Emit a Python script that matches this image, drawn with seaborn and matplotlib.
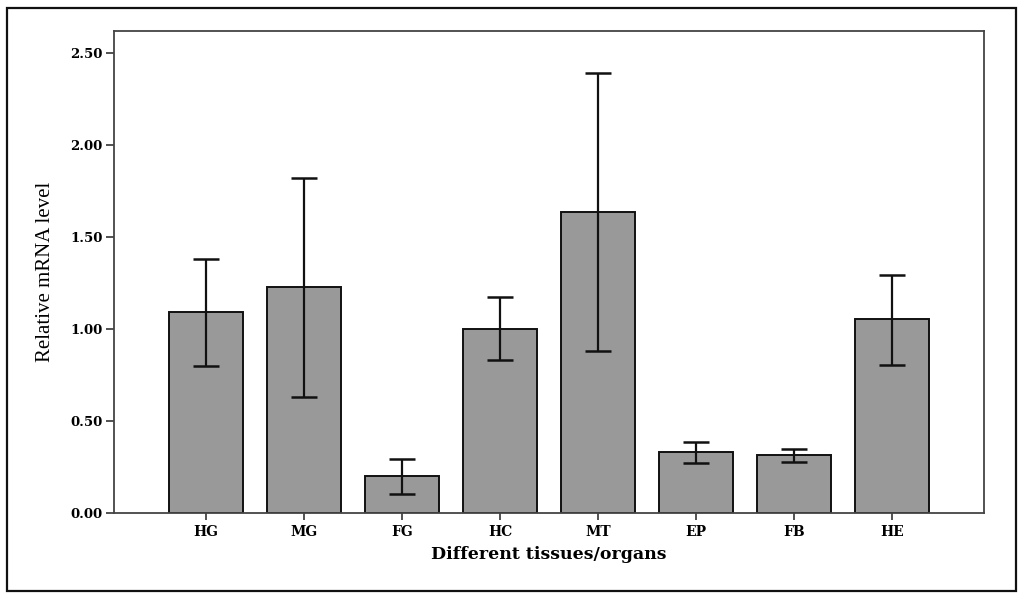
import matplotlib
matplotlib.use("Agg")
import matplotlib.pyplot as plt
import matplotlib.patches as mpatches
import seaborn as sns
import pandas as pd
import numpy as np

categories = ["HG", "MG", "FG", "HC", "MT", "EP", "FB", "HE"]
means = [1.09, 1.23, 0.20, 1.00, 1.636, 0.33, 0.314, 1.052]
err_upper = [1.381, 1.82, 0.296, 1.172, 2.39, 0.387, 0.349, 1.296]
err_lower = [0.80, 0.632, 0.104, 0.832, 0.88, 0.273, 0.278, 0.805]
yticks = [0.0, 0.5, 1.0, 1.5, 2.0, 2.5]

sns.set_theme(style="white")
plt.rcParams["font.family"] = ["DejaVu Serif", "Liberation Serif"]
plt.rcParams["text.color"] = "black"
plt.rcParams["axes.labelcolor"] = "black"
plt.rcParams["xtick.color"] = "black"
plt.rcParams["ytick.color"] = "black"

df = pd.DataFrame({"tissue": categories, "level": means})

fig = plt.figure(figsize=(10.24, 5.99), dpi=100)
ax = fig.add_axes([0.1113, 0.1436, 0.961 - 0.1113, 0.9482 - 0.1436])

sns.barplot(data=df, x="tissue", y="level", order=categories, color="#999999",
            saturation=1, width=0.76, edgecolor="#111111", linewidth=1.4,
            errorbar=None, ax=ax)

pos = np.arange(len(categories))
m = np.array(means)
yerr = np.vstack([m - np.array(err_lower), np.array(err_upper) - m])
ax.errorbar(pos, m, yerr=yerr, fmt="none", ecolor="#111111", elinewidth=1.6,
            capsize=9.5, capthick=1.8)

ax.set_xlim(-0.94, 7.94)
ax.set_ylim(0, 2.62)
ax.set_yticks(yticks)
ax.set_yticklabels([f"{v:.2f}" for v in yticks], fontsize=9.5, fontweight="bold",
                   family="DejaVu Serif")
ax.set_xticks(pos)
ax.set_xticklabels(categories, fontsize=10, fontweight="bold", family="DejaVu Serif")
ax.tick_params(axis="y", direction="out", length=6, width=1.2, color="#333333", pad=2, left=True)
ax.tick_params(axis="x", direction="out", length=5, width=1.2, color="#333333", pad=4, bottom=True)

for s in ax.spines.values():
    s.set_visible(True)
    s.set_color("#444444")
    s.set_linewidth(1.3)

ax.set_xlabel("Different tissues/organs", fontsize=12.5, fontweight="bold",
              family="DejaVu Serif", labelpad=5)
ax.set_ylabel("Relative mRNA level", fontsize=15, family="Liberation Serif")
ax.yaxis.set_label_coords(-0.068, 0.5)

border = mpatches.Rectangle((7 / 1024, 8 / 599), (1016 - 7) / 1024, (591 - 8) / 599,
                            transform=fig.transFigure, fill=False,
                            edgecolor="#111111", linewidth=1.6)
fig.patches.append(border)

fig.savefig("out.png", dpi=100)
